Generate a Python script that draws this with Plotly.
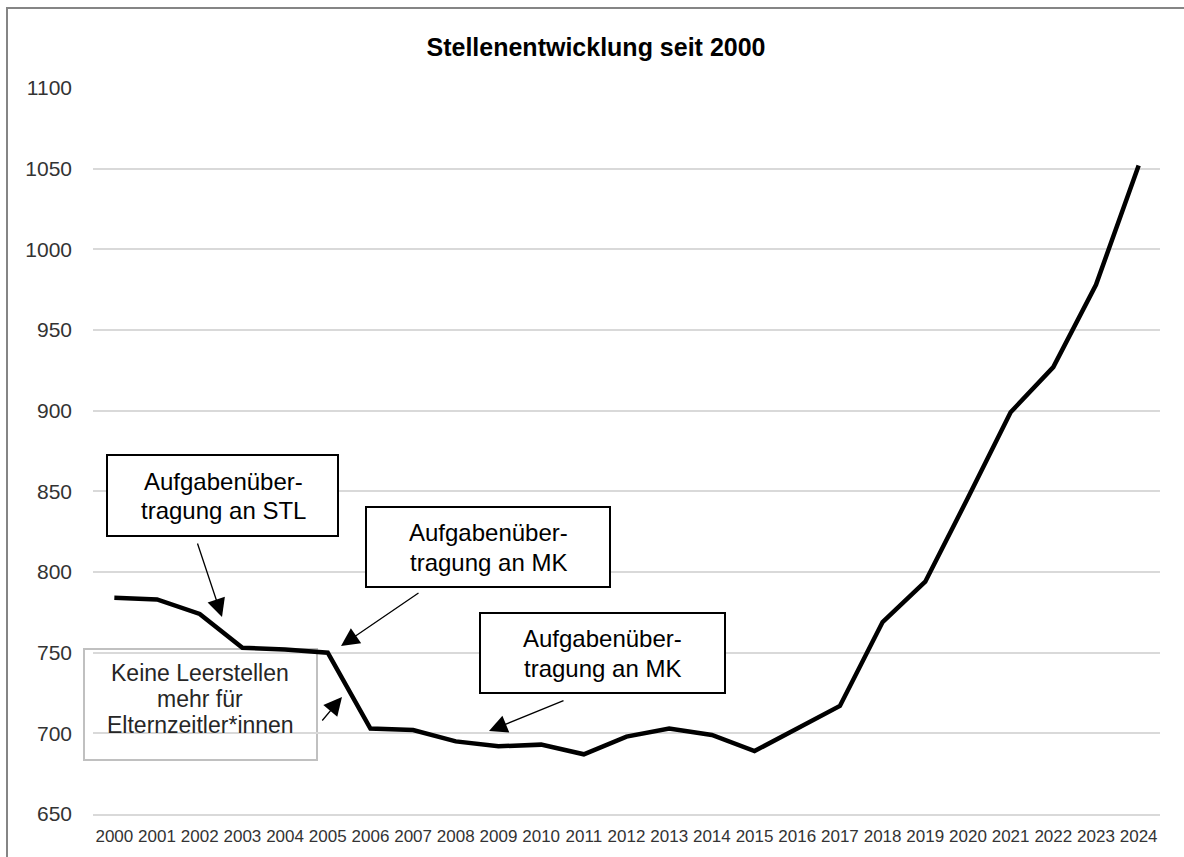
import plotly.graph_objects as go

# ---- data ----
years = [str(y) for y in range(2000, 2025)]
stellen = [784, 783, 774, 753, 752, 750, 703, 702, 695, 692, 693, 687, 698,
           703, 699, 689, 703, 717, 769, 794, 846, 899, 927, 978, 1052]
y_ticks = [650, 700, 750, 800, 850, 900, 950, 1000, 1050, 1100]
title_text = "Stellenentwicklung seit 2000"

# ---- layout geometry (pixels) ----
W, H = 1184, 857
L, R, T, B = 93, 24, 88, 43
PW, PH = W - L - R, H - T - B
FONT = "Arial, Liberation Sans, sans-serif"


def px(xp):
    return (xp - L) / PW


def py(yp):
    return (H - B - yp) / PH


fig = go.Figure()
fig.add_trace(go.Scatter(x=years, y=stellen, mode="lines",
                         line=dict(color="black", width=4.5),
                         hoverinfo="x+y", showlegend=False))

shapes = []
annotations = []


def box(x0, y0, x1, y1, color, layer="above"):
    shapes.append(dict(type="rect", xref="paper", yref="paper",
                       x0=px(x0), x1=px(x1), y0=py(y1), y1=py(y0),
                       line=dict(color=color, width=2), fillcolor="white",
                       layer=layer))


def text(t, x, y, size, color="black"):
    annotations.append(dict(text=t, xref="paper", yref="paper", x=px(x), y=py(y),
                            xanchor="center", yanchor="middle", showarrow=False,
                            font=dict(family=FONT, size=size, color=color)))


def arrow(tail, tip):
    annotations.append(dict(text="", xref="paper", yref="paper",
                            x=px(tip[0]), y=py(tip[1]),
                            ax=tail[0] - tip[0], ay=tail[1] - tip[1],
                            showarrow=True, arrowhead=2, arrowsize=2.8,
                            arrowwidth=1.3, arrowcolor="black", standoff=0))


# boxes
box(107, 455, 338, 536, "black")
box(366, 507, 610, 587, "black")
box(480, 613, 725, 693, "black")
box(84, 649, 317, 760, "#c0c0c0", layer="between")

text("Aufgabenüber-", 223, 481, 24)
text("tragung an STL", 223, 511, 24)
text("Aufgabenüber-", 488, 532, 24)
text("tragung an MK", 488, 562, 24)
text("Aufgabenüber-", 602, 638, 24)
text("tragung an MK", 602, 668, 24)
text("Keine Leerstellen", 200, 673, 23, "#262626")
text("mehr für", 200, 699, 23, "#262626")
text("Elternzeitler*innen", 200, 725, 23, "#262626")

arrow((197, 542), (222, 617))
arrow((420, 592), (341, 646))
arrow((565, 700), (489, 731))
arrow((321, 722), (342, 697))

# outer border (cropped at right / bottom)
shapes.append(dict(type="rect", xref="paper", yref="paper",
                   x0=px(7), x1=px(1200), y0=py(870), y1=py(8),
                   line=dict(color="#858585", width=2), fillcolor="rgba(0,0,0,0)",
                   layer="above"))

fig.update_layout(
    width=W, height=H,
    margin=dict(l=L, r=R, t=T, b=B, pad=0),
    paper_bgcolor="white", plot_bgcolor="white",
    font=dict(family=FONT, color="#333333"),
    title=dict(text="<b>" + title_text + "</b>", xref="container", yref="container",
               x=596 / W, y=1 - 47 / H, xanchor="center", yanchor="middle",
               font=dict(family=FONT, size=25, color="black")),
    xaxis=dict(type="category", range=[-0.5, len(years) - 0.5],
               showgrid=False, showline=True, linecolor="#d9d9d9", linewidth=2,
               ticks="", tickfont=dict(size=17, color="#333333"),
               ticklabelstandoff=6, fixedrange=True),
    yaxis=dict(range=[650, 1100], tickvals=y_ticks,
               showgrid=True, gridcolor="#d9d9d9", gridwidth=2,
               zeroline=False, showline=False, ticks="",
               tickfont=dict(size=21, color="#333333"),
               ticklabelstandoff=20, fixedrange=True),
    shapes=shapes, annotations=annotations,
    showlegend=False,
)

fig.write_html("out.html", config={"displayModeBar": False},
               post_script="document.body.style.margin='0';document.body.style.overflow='hidden';")
